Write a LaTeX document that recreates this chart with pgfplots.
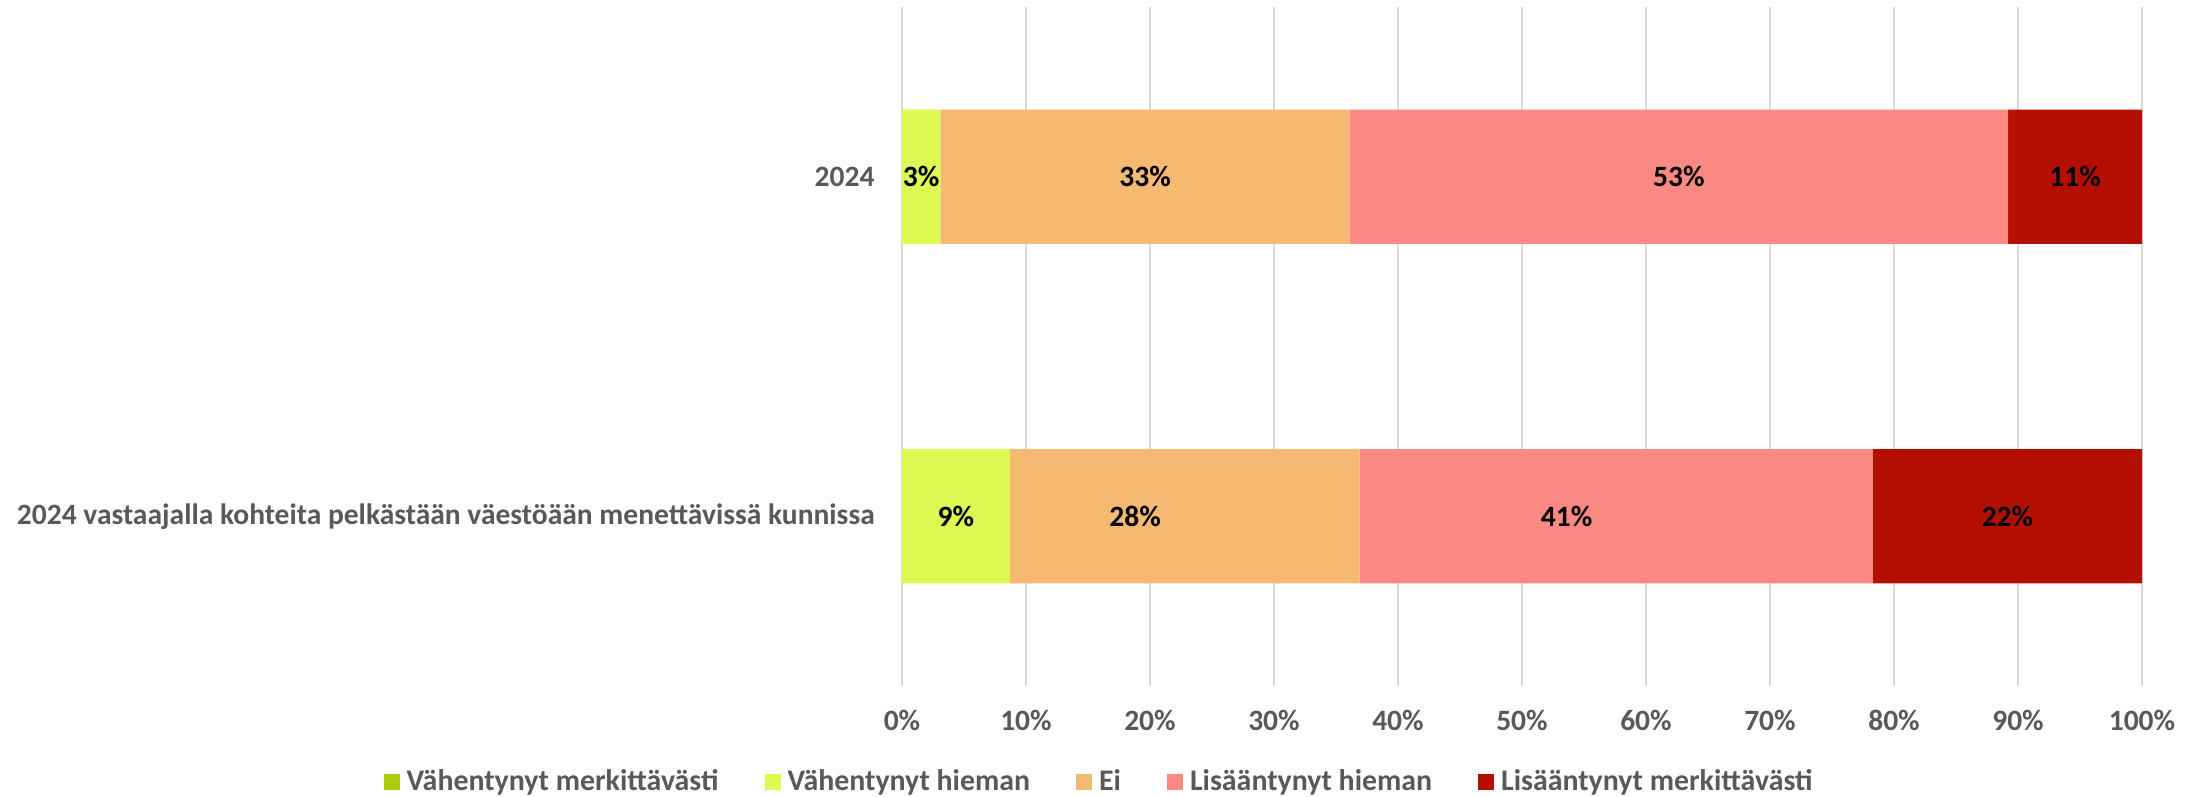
\documentclass[border=0pt]{standalone}
\usepackage{pgfplots}
\pgfplotsset{compat=1.18}
\usepackage{fontspec}
\setmainfont{Carlito}
\definecolor{vm}{HTML}{AECB0D}
\definecolor{vh}{HTML}{DEF751}
\definecolor{ei}{HTML}{F5B971}
\definecolor{lh}{HTML}{FB8983}
\definecolor{lm}{HTML}{B40F02}
\definecolor{txt}{HTML}{595959}
\definecolor{grd}{HTML}{D9D9D9}
\pgfplotsset{
  common/.style={
    at={(0,0)}, anchor=south west,
    scale only axis,
    width=124mm, height=67.9mm,
    xmin=0, xmax=100,
    ymin=-0.5, ymax=1.5,
    y dir=reverse,
  }
}
\begin{document}
\begin{tikzpicture}
\begin{axis}[
  common,
  xbar stacked,
  bar width=0.395,
  ytick={0,1},
  yticklabels={2024, 2024 vastaajalla kohteita pelkästään väestöään menettävissä kunnissa},
  xtick={0,10,...,100},
  xticklabel={\pgfmathprintnumber[assume math mode=true]{\tick}\%},
  xmajorgrids,
  major grid style={draw=grd, line width=0.6pt},
  axis line style={draw=none},
  tick style={draw=none},
  ticklabel style={font=\fontsize{8.4}{10}\selectfont\bfseries, text=txt},
  yticklabel style={xshift=-1.5mm},
  xticklabel style={yshift=-1.2mm},
  legend columns=5,
  legend style={at={(0.161,-0.142)}, anchor=center, draw=none,
    font=\fontsize{8.5}{10}\selectfont\bfseries, text=txt,
    /tikz/every even column/.append style={column sep=3.9mm}},
  legend image code/.code={\fill[#1,draw=none] (0mm,-0.8mm) rectangle (1.6mm,0.8mm);},
]
\addlegendimage{fill=vm}
\addlegendentry{Vähentynyt merkittävästi}
\addplot[fill=vh, draw=none] coordinates {(3.1,0) (8.7,1)};
\addlegendentry{Vähentynyt hieman}
\addplot[fill=ei, draw=none] coordinates {(33.0,0) (28.2,1)};
\addlegendentry{Ei}
\addplot[fill=lh, draw=none] coordinates {(53.1,0) (41.4,1)};
\addlegendentry{Lisääntynyt hieman}
\addplot[fill=lm, draw=none] coordinates {(10.8,0) (21.7,1)};
\addlegendentry{Lisääntynyt merkittävästi}
\end{axis}
% data labels, placed at the middle of each segment
\begin{axis}[common, hide axis]
\addplot[draw=none, mark=none, point meta=explicit,
  nodes near coords={\pgfmathprintnumber[fixed,precision=0,assume math mode=true]{\pgfplotspointmeta}\%},
  nodes near coords style={anchor=center, black, font=\fontsize{8.4}{10}\selectfont\bfseries}]
  coordinates {
  (1.55,0) [3.1] (19.6,0) [33.0] (62.65,0) [53.1] (94.6,0) [10.8]
  (4.35,1) [8.7] (18.8,1) [28.2] (53.6,1) [41.4] (89.15,1) [21.7]
  };
\end{axis}
\pgfresetboundingbox
\path (-90.2mm,-11mm) rectangle (130.1mm,68.6mm);
\end{tikzpicture}
\end{document}
